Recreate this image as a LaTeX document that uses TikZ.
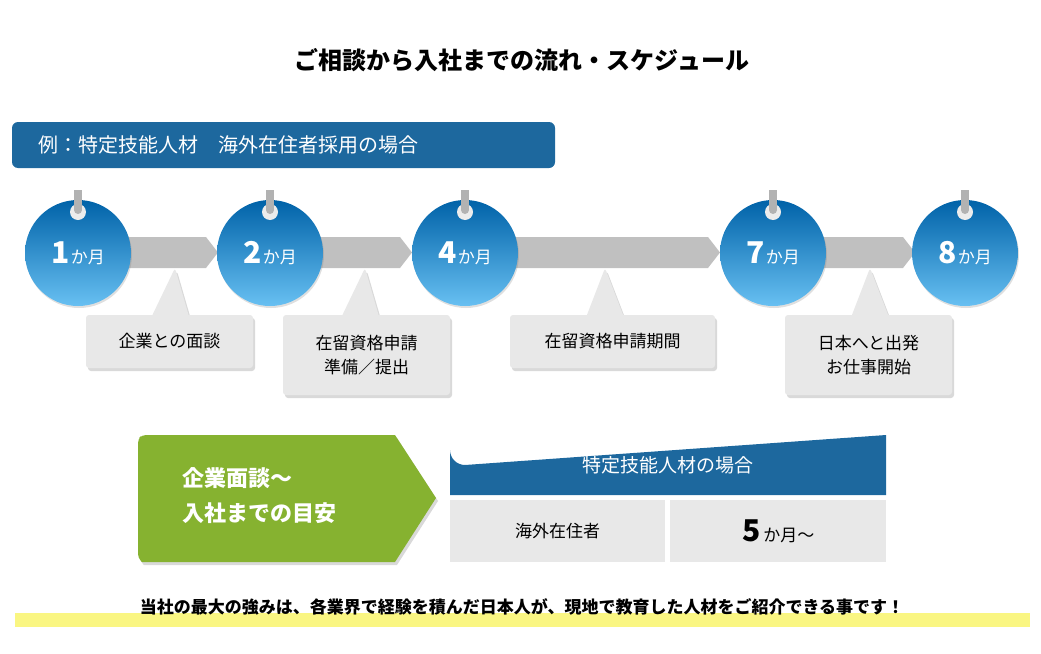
\documentclass[tikz,border=0pt]{standalone}
\usepackage{fontspec}
\setmainfont{Noto Sans CJK JP}
\usetikzlibrary{positioning,shapes.arrows,shadows,calc}
\definecolor{navy}{RGB}{29,104,158}
\definecolor{skytop}{RGB}{0,98,168}
\definecolor{skybot}{RGB}{104,192,242}
\definecolor{band}{RGB}{192,192,192}
\definecolor{note}{RGB}{232,232,232}
\definecolor{leaf}{RGB}{134,178,48}
\definecolor{hilite}{RGB}{250,246,130}
\tikzset{
        every node/.style={align=center,inner sep=0pt},
        month/.style={circle,minimum size=106pt,top color=skytop,bottom color=skybot,text=white,
                      drop shadow={shadow xshift=1pt,shadow yshift=-2pt,opacity=0.25}},
        note/.style={fill=note,rounded corners=3pt,font=\fontsize{17}{24}\selectfont,
                     drop shadow={shadow xshift=2pt,shadow yshift=-3pt,opacity=0.3}},
        cell/.style={fill=note,minimum height=62pt,font=\fontsize{17}{20}\selectfont},
        }
\newcommand{\kagetsu}[1]{{\fontsize{30}{30}\selectfont\bfseries #1}\,{\fontsize{17}{17}\selectfont か月}}
\begin{document}
\begin{tikzpicture}[x=1pt,y=-1pt]
\useasboundingbox (0,0) rectangle (1041,653);

% title...................
\node[font=\fontsize{24}{24}\selectfont\bfseries] (title) at (522,60) {ご相談から入社までの流れ・スケジュール};

% banner..................
\fill[navy,rounded corners=6pt] (12,122) rectangle (555,168);
\node[anchor=west,text=white,font=\fontsize{20}{20}\selectfont] (ex) at (38,145) {例：特定技能人材\quad 海外在住者採用の場合};

% gray bands................
\foreach \a/\b in {120/218,312/412,505/720,815/915}
  \fill[band] (\a,237) -- (\b-12,237) -- (\b,252.5) -- (\b-12,268) -- (\a,268) -- cycle;

% callouts...................
\foreach \t/\l/\r in {175/150/190,365/340/380,605/585/625,870/850/890}
  \fill[note] (\l,320) -- (\t,268) -- (\r,320) -- cycle;
\node[note,minimum width=167pt,minimum height=53pt] (n1) at (169.5,341.5) {企業との面談};
\node[note,minimum width=167pt,minimum height=80pt] (n2) at (366.5,355) {在留資格申請\\準備／提出};
\node[note,minimum width=205pt,minimum height=53pt] (n3) at (612.5,341.5) {在留資格申請期間};
\node[note,minimum width=167pt,minimum height=80pt] (n4) at (868.5,355) {日本へと出発\\お仕事開始};

% months......................
\foreach \x/\m [count=\i] in {78/1,270/2,465/4,773/7,965/8}{
  \node[month] (m\i) at (\x,253) {\kagetsu{\m}};
  \fill[white!85!gray] (\x,212) circle (8pt);
  \fill[gray!60] (\x-4,190) rectangle (\x+4,210);
  \fill[gray!60] (\x,210) circle (4pt);
}

% green arrow...................
\fill[leaf,drop shadow={shadow xshift=2pt,shadow yshift=-3pt,opacity=0.3}]
  (142,435) -- (395,435) -- (436,498) -- (395,562) -- (142,562) [rounded corners=4pt] -- (138,558) -- (138,439) -- cycle;
\node[anchor=west,align=left,text=white,font=\fontsize{22}{35}\selectfont\bfseries] (aim) at (182,496) {企業面談〜\\入社までの目安};

% table............................
\fill[navy] (450,495) -- (450,450) arc (180:270:15pt) -- (886,435) -- (886,495) -- cycle;
\node[text=white,font=\fontsize{19}{20}\selectfont] (head) at (668,465) {特定技能人材の場合};
\node[cell,minimum width=215pt,anchor=north west] (c1) at (450,500) {海外在住者};
\node[cell,minimum width=216pt,anchor=north west] (c2) at (670,500) {\kagetsu{5}{\fontsize{17}{17}\selectfont 〜}};

% footer...........................
\fill[hilite] (15,613) rectangle (1030,627);
\node[font=\fontsize{17}{17}\selectfont\bfseries] (foot) at (522,607) {当社の最大の強みは、各業界で経験を積んだ日本人が、現地で教育した人材をご紹介できる事です！};
\end{tikzpicture}
\end{document}
